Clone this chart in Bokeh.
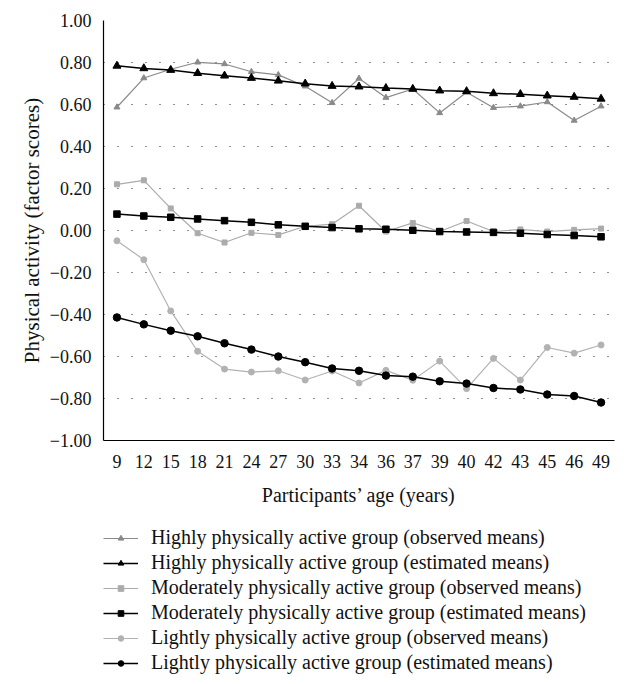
from bokeh.plotting import figure
from bokeh.layouts import column
from bokeh.models import (Legend, LegendItem, FixedTicker, CustomJSTickFormatter,
                          Range1d, FactorRange)
from bokeh.embed import file_html
from bokeh.resources import INLINE

ages = ["9", "12", "15", "18", "21", "24", "27", "30", "33", "34", "36",
        "37", "39", "40", "42", "43", "45", "46", "49"]

high_obs = [0.587, 0.726, 0.768, 0.801, 0.793, 0.756, 0.741, 0.687, 0.608, 0.724,
            0.633, 0.674, 0.560, 0.658, 0.585, 0.592, 0.612, 0.524, 0.592]
high_est = [0.784, 0.772, 0.764, 0.749, 0.737, 0.726, 0.713, 0.699, 0.688, 0.685,
            0.678, 0.674, 0.666, 0.663, 0.653, 0.649, 0.642, 0.636, 0.627]
mod_obs = [0.220, 0.239, 0.105, -0.013, -0.057, -0.011, -0.021, 0.020, 0.030, 0.118,
           -0.005, 0.036, -0.005, 0.045, -0.005, 0.005, -0.005, 0.003, 0.009]
mod_est = [0.078, 0.069, 0.063, 0.055, 0.047, 0.039, 0.027, 0.020, 0.014, 0.008,
           0.006, 0.001, -0.005, -0.007, -0.009, -0.013, -0.019, -0.024, -0.030]
light_obs = [-0.049, -0.139, -0.383, -0.575, -0.660, -0.674, -0.668, -0.712, -0.669, -0.726,
             -0.666, -0.713, -0.622, -0.753, -0.609, -0.712, -0.557, -0.584, -0.545]
light_est = [-0.414, -0.447, -0.477, -0.504, -0.537, -0.567, -0.600, -0.627, -0.657, -0.668,
             -0.691, -0.696, -0.718, -0.729, -0.750, -0.757, -0.781, -0.788, -0.819]

y_ticks = [-1.0, -0.8, -0.6, -0.4, -0.2, 0.0, 0.2, 0.4, 0.6, 0.8, 1.0]

labels = ["Highly physically active group (observed means)",
          "Highly physically active group (estimated means)",
          "Moderately physically active group (observed means)",
          "Moderately physically active group (estimated means)",
          "Lightly physically active group (observed means)",
          "Lightly physically active group (estimated means)"]

FONT = "Liberation Serif"

p = figure(x_range=FactorRange(factors=ages), y_range=Range1d(-1, 1),
           width=616, height=508, output_backend="svg", toolbar_location=None,
           min_border_top=20, min_border_left=103, min_border_right=2,
           min_border_bottom=65)
p.outline_line_color = None
p.background_fill_color = "white"

# legend-only figure underneath (its data ranges keep the series out of view,
# so only the legend entries are visible)
lg = figure(width=616, height=168, output_backend="svg", toolbar_location=None,
            x_axis_location=None, y_axis_location=None,
            min_border_top=0, min_border_left=95, min_border_right=2,
            min_border_bottom=0, x_range=FactorRange(factors=ages),
            y_range=Range1d(10, 11))
lg.outline_line_color = None
lg.xgrid.grid_line_color = None
lg.ygrid.grid_line_color = None

series = [
    (high_obs, "triangle", "#8a8a8a", 6, 1.2),
    (high_est, "triangle", "black", 8, 1.5),
    (mod_obs, "square", "#ababab", 5, 1.2),
    (mod_est, "square", "black", 6.5, 1.5),
    (light_obs, "circle", "#b2b2b2", 6, 1.2),
    (light_est, "circle", "black", 7.5, 1.5),
]

items = []
for (vals, marker, col, size, lw), lab in zip(series, labels):
    p.line(ages, vals, line_color=col, line_width=lw)
    p.scatter(ages, vals, marker=marker, size=size, fill_color=col, line_color=col)
    lr = lg.line(ages, vals, line_color=col, line_width=lw)
    sr = lg.scatter(ages, vals, marker=marker, size=size, fill_color=col, line_color=col)
    items.append(LegendItem(label=lab, renderers=[lr, sr], index=0))

# axes
p.yaxis.ticker = FixedTicker(ticks=y_ticks)
p.yaxis.formatter = CustomJSTickFormatter(code="""
    if (Math.abs(tick) < 1e-9) { return "0.00"; }
    return (tick < 0 ? "\\u2212" : "") + Math.abs(tick).toFixed(2);
""")
for ax in (p.xaxis[0], p.yaxis[0]):
    ax.major_tick_line_color = None
    ax.minor_tick_line_color = None
    ax.major_tick_out = 0
    ax.major_tick_in = 0
    ax.minor_tick_out = 0
    ax.axis_line_color = "black"
    ax.axis_line_width = 1.2
    ax.major_label_text_font = FONT
    ax.major_label_text_font_size = "18px"
    ax.major_label_text_color = "#111111"
    ax.axis_label_text_font = FONT
    ax.axis_label_text_font_size = "20px"
    ax.axis_label_text_font_style = "normal"
    ax.axis_label_text_color = "#111111"
p.yaxis.axis_label_text_font_size = "21px"
p.yaxis.major_label_standoff = 12
p.xaxis.major_label_standoff = 14
p.yaxis.axis_label = "Physical activity (factor scores)"
p.xaxis.axis_label = "Participants\u2019 age (years)"
p.yaxis.axis_label_standoff = 3
p.xaxis.axis_label_standoff = 13

p.xgrid.grid_line_color = None
p.ygrid.ticker = FixedTicker(ticks=y_ticks)
p.ygrid.grid_line_color = "#222222"
p.ygrid.grid_line_dash = "1 13"
p.ygrid.grid_line_width = 1.2

legend = Legend(items=items, location=(0, 2), orientation="vertical",
                label_text_font=FONT, label_text_font_size="20px",
                label_text_color="#111111",
                glyph_width=35, glyph_height=14, label_height=20, spacing=2,
                label_standoff=13, padding=0, margin=0,
                border_line_color=None, background_fill_alpha=0)
lg.add_layout(legend)

layout = column(p, lg, spacing=0)
open("out.html", "w").write(file_html(layout, INLINE))
